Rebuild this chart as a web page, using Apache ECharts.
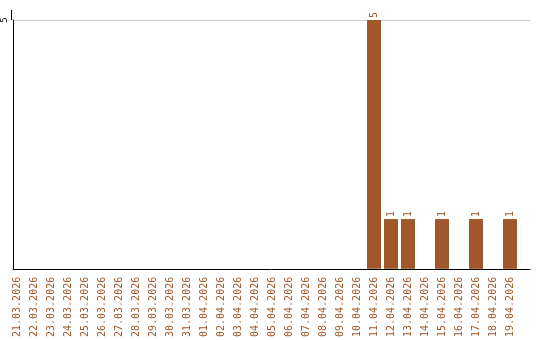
<!DOCTYPE html>
<html><head><meta charset="utf-8">
<script src="https://cdn.jsdelivr.net/npm/echarts@6/dist/echarts.min.js"></script>
<style>html,body{margin:0;padding:0;background:#fff}#c{width:540px;height:340px}</style>
</head><body><div id="c"></div>
<script>
const categories = ["21.03.2026","22.03.2026","23.03.2026","24.03.2026","25.03.2026","26.03.2026","27.03.2026","28.03.2026","29.03.2026","30.03.2026","31.03.2026","01.04.2026","02.04.2026","03.04.2026","04.04.2026","05.04.2026","06.04.2026","07.04.2026","08.04.2026","09.04.2026","10.04.2026","11.04.2026","12.04.2026","13.04.2026","14.04.2026","15.04.2026","16.04.2026","17.04.2026","18.04.2026","19.04.2026"];
const values = [null,null,null,null,null,null,null,null,null,null,null,null,null,null,null,null,null,null,null,null,null,5,1,1,null,1,null,1,null,1];
const yTicks = [0, 5];

const brown = '#a0582a';
const font = 'DejaVu Sans Mono';
const chart = echarts.init(document.getElementById('c'), null, {renderer:'canvas'});
chart.setOption({
  animation:false,
  grid:[
    {left:11, right:10, top:20, bottom:71},
    {left:8.5, width:510, top:20, bottom:71}
  ],
  xAxis:[
    {gridIndex:0, type:'value', min:0, max:1, show:true,
     axisLine:{show:true,onZero:false,lineStyle:{color:'#000',width:1}},
     axisTick:{show:false}, axisLabel:{show:false}, splitLine:{show:false}},
    {gridIndex:1, type:'category', data:categories, boundaryGap:true,
     axisLine:{show:false}, axisTick:{show:false},
     axisLabel:{interval:0, rotate:90, margin:8, color:brown, fontFamily:font, fontSize:10}}
  ],
  yAxis:[
    {gridIndex:0, type:'value', min:yTicks[0], max:yTicks[1], interval:5,
     axisLine:{show:true,lineStyle:{color:'#000',width:1}}, axisTick:{show:false},
     axisLabel:{rotate:90, margin:4, color:'#000', fontFamily:font, fontSize:9,
       formatter:v=> v===0?'':String(v)},
     splitLine:{show:true,lineStyle:{color:'#cccccc',width:1}}},
    {gridIndex:1, type:'value', min:yTicks[0], max:yTicks[1], show:false}
  ],
  graphic:[{type:'line', shape:{x1:11.5,y1:10,x2:11.5,y2:20}, style:{stroke:'#000',lineWidth:1}}],
  series:[{
    type:'bar', xAxisIndex:1, yAxisIndex:1, data:values, barWidth:14,
    itemStyle:{color:brown},
    label:{show:true, position:'top', rotate:90, align:'left', verticalAlign:'middle', distance:2,
      color:brown, fontFamily:font, fontSize:10}
  }]
});
</script></body></html>
